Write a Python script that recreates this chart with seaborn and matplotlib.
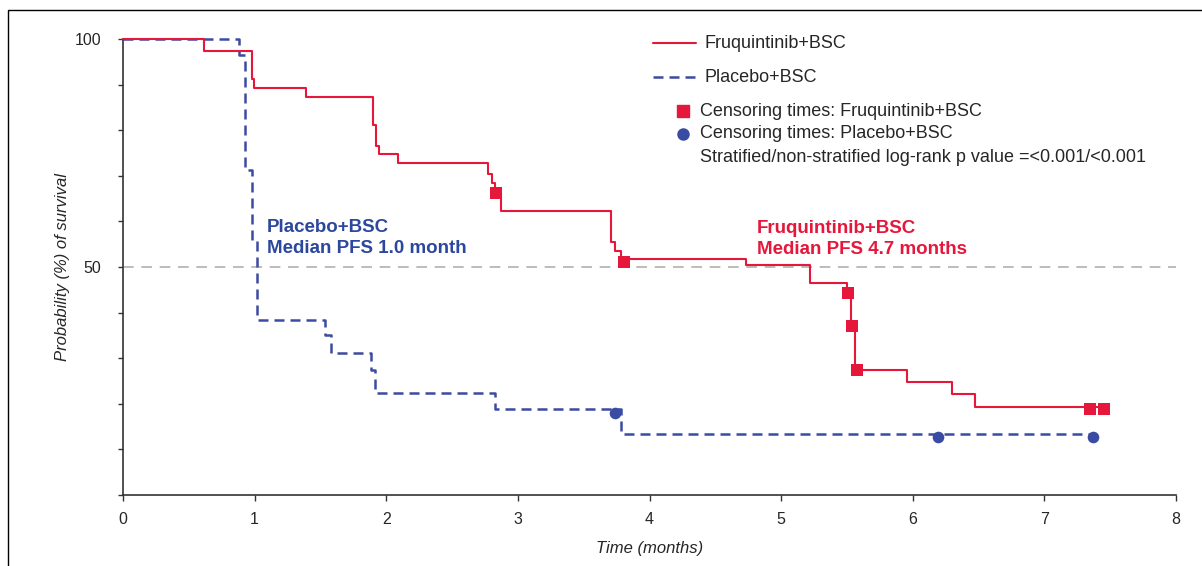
import numpy as np
import pandas as pd
import matplotlib
matplotlib.use("Agg")
import matplotlib.pyplot as plt
from matplotlib.patches import Rectangle
from matplotlib.lines import Line2D
import seaborn as sns

# ==========================================
# Values
# ==========================================

# Fruquintinib+BSC step curve (time in months, survival in %)
fruq_time = [0, 0.615, 0.978, 0.995, 1.39, 1.897, 1.92, 1.945, 2.087, 2.77, 2.80,
             2.83, 2.87, 3.71, 3.74, 3.78, 3.80, 4.73, 5.22, 5.50, 5.53, 5.56,
             5.955, 6.30, 6.47, 7.45]
fruq_surv = [100, 97.4, 91.2, 89.3, 87.3, 81.1, 76.5, 74.7, 72.7, 70.3, 68.5,
             66.2, 62.3, 55.4, 53.5, 52.3, 51.7, 50.5, 46.6, 44.2, 37.1, 27.4,
             24.7, 22.1, 19.2, 19.2]

# Placebo+BSC step curve
plac_time = [0, 0.884, 0.93, 0.978, 1.015, 1.535, 1.578, 1.882, 1.915, 2.827, 3.78, 7.37]
plac_surv = [100, 96.5, 71.3, 56.0, 38.4, 35.1, 31.1, 27.4, 22.3, 18.8, 13.3, 13.3]

# censoring marks
fruq_cens_time = [2.835, 3.81, 5.51, 5.54, 5.575, 7.35, 7.45]
fruq_cens_surv = [66.2, 51.0, 44.2, 37.1, 27.4, 18.9, 18.9]
plac_cens_time = [3.74, 6.19, 7.37]
plac_cens_surv = [18.0, 12.8, 12.8]

x_ticks = [0, 1, 2, 3, 4, 5, 6, 7, 8]
y_ticks = [0, 10, 20, 30, 40, 50, 60, 70, 80, 90, 100]
y_tick_labels = ["", "", "", "", "", "50", "", "", "", "", "100"]

fruq_df = pd.DataFrame({"time": fruq_time, "surv": fruq_surv})
plac_df = pd.DataFrame({"time": plac_time, "surv": plac_surv})

# ==========================================
# Style
# ==========================================

sns.set_style("ticks")
plt.rcParams["font.family"] = ["Liberation Sans", "DejaVu Sans"]

RED = "#e5173b"
BLUE = "#3a4ba3"
TEXT_BLUE = "#2c479e"
W, H = 1202, 566

fig = plt.figure(figsize=(W / 100, H / 100), dpi=100)
ax = fig.add_axes([123 / W, 1 - 495 / H, (1176 - 123) / W, (495 - 39) / H])

# median reference line
ax.axhline(50, color="#aaaaaa", lw=1.1, linestyle=(0, (7, 5)), zorder=1)

# ==========================================
# Curves
# ==========================================

sns.lineplot(data=fruq_df, x="time", y="surv", drawstyle="steps-post",
             estimator=None, color=RED, linewidth=1.5, ax=ax, clip_on=False, zorder=3)
sns.lineplot(data=plac_df, x="time", y="surv", drawstyle="steps-post",
             estimator=None, color=BLUE, linewidth=1.8, ax=ax, clip_on=False,
             linestyle=(0, (4, 2.4)), zorder=2)

sns.scatterplot(x=fruq_cens_time, y=fruq_cens_surv, marker="s", s=80, color=RED,
                edgecolor=RED, linewidth=0, ax=ax, zorder=4, clip_on=False)
sns.scatterplot(x=plac_cens_time, y=plac_cens_surv, marker="o", s=70, color=BLUE,
                edgecolor=BLUE, linewidth=0, ax=ax, zorder=4, clip_on=False)

# median annotations
ax.text(1.094, 56.4, "Placebo+BSC\nMedian PFS 1.0 month", color=TEXT_BLUE,
        fontsize=13.5, fontweight="bold", va="center", ha="left", linespacing=1.32)
ax.text(4.815, 56.1, "Fruquintinib+BSC\nMedian PFS 4.7 months", color=RED,
        fontsize=13.5, fontweight="bold", va="center", ha="left", linespacing=1.32)

# ==========================================
# Axes
# ==========================================

ax.set_xlim(0, 8)
ax.set_ylim(0, 100)
ax.set_xticks(x_ticks)
ax.set_yticks(y_ticks)
ax.set_yticklabels(y_tick_labels)
ax.tick_params(axis="x", length=4.5, width=1, color="#333333", pad=8, labelsize=11.5)
ax.tick_params(axis="y", length=3.8, width=1, color="#333333", pad=12, labelsize=11.5)
for side in ["top", "right"]:
    ax.spines[side].set_visible(False)
for side in ["left", "bottom"]:
    ax.spines[side].set_color("#333333")
    ax.spines[side].set_linewidth(1.2)

ax.set_xlabel("Time (months)", fontsize=12, style="italic", labelpad=10)
ax.set_ylabel("Probability (%) of survival", fontsize=12, style="italic", labelpad=3)

# ==========================================
# Legend (drawn by hand to match layout)
# ==========================================

def fx(px):
    return px / W

def fy(py):
    return 1 - py / H

fig.add_artist(Line2D([fx(653), fx(696)], [fy(43), fy(43)], color=RED, lw=1.5))
fig.add_artist(Line2D([fx(653), fx(697)], [fy(77), fy(77)], color=BLUE, lw=1.8,
                      linestyle=(0, (4, 2.4))))
fig.add_artist(Line2D([fx(683)], [fy(111)], marker="s", ms=8, color=RED, ls="none"))
fig.add_artist(Line2D([fx(683)], [fy(134)], marker="o", ms=8, color=BLUE, ls="none"))

fig.text(fx(704), fy(43), "Fruquintinib+BSC", fontsize=13, va="center")
fig.text(fx(704), fy(77), "Placebo+BSC", fontsize=13, va="center")
fig.text(fx(700), fy(111), "Censoring times: Fruquintinib+BSC", fontsize=13, va="center")
fig.text(fx(700), fy(134), "Censoring times: Placebo+BSC", fontsize=13, va="center")
fig.text(fx(700), fy(157), "Stratified/non-stratified log-rank p value =<0.001/<0.001",
         fontsize=13, va="center")

# outer frame (left and top edges visible)
fig.add_artist(Rectangle((fx(8), -0.1), 1.2, fy(10) + 0.1, fill=False,
                         edgecolor="black", lw=1.0))

fig.savefig("out.png", dpi=100)
